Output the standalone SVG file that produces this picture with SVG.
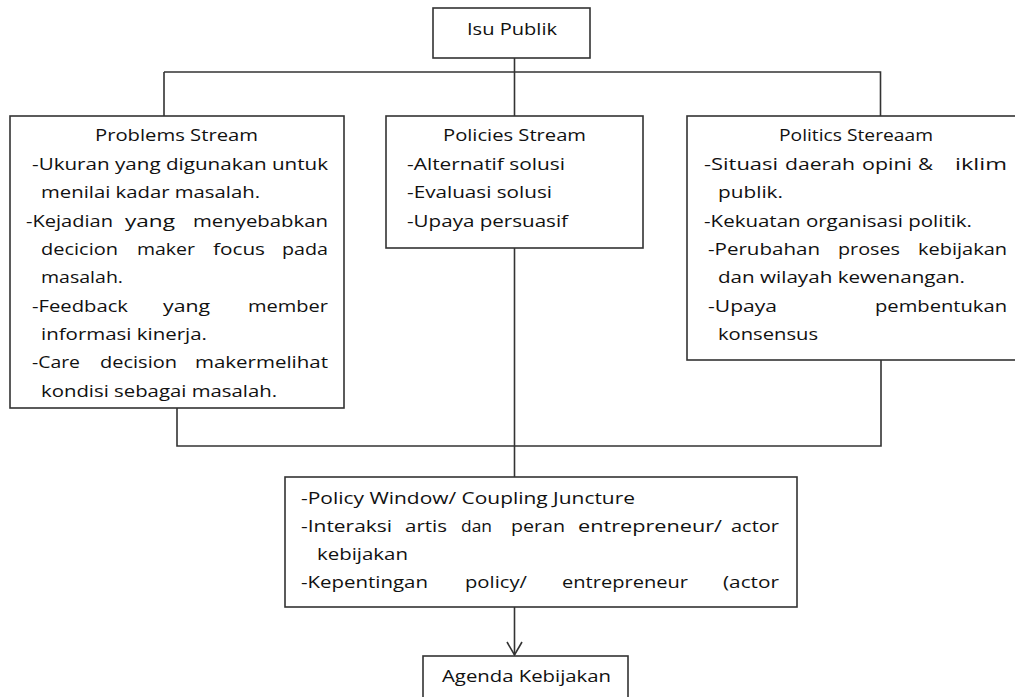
<svg xmlns="http://www.w3.org/2000/svg" width="1015" height="697" viewBox="0 0 1015 697">
<style>
.box{fill:#fff;stroke:#333;stroke-width:1.6}
.ln{fill:none;stroke:#333;stroke-width:1.6}
text{font-family:"Open Sans","Liberation Sans",sans-serif;font-size:16.5px;fill:#111}
.c{text-anchor:middle}
</style>
<rect width="1015" height="697" fill="#fff"/>
<g id="connectors">
<path class="ln" d="M514.5,58V116M164,72H880.5V116M164,72V116"/>
<path class="ln" d="M177,408V446H881V360"/>
<path class="ln" d="M514.5,248V477"/>
<path class="ln" d="M514.5,607V655"/>
<polyline class="ln" points="507,642 514.5,655 522,642"/>
</g>
<g id="isu-publik">
<rect class="box" x="433" y="8" width="157" height="50"/>
<text x="467" y="35" textLength="90" lengthAdjust="spacingAndGlyphs">Isu Publik</text>
</g>
<g id="problems-stream">
<rect class="box" x="10" y="116" width="334" height="292"/>
<text x="95" y="141" textLength="163" lengthAdjust="spacingAndGlyphs">Problems Stream</text>
<text x="32" y="170" textLength="296" lengthAdjust="spacingAndGlyphs">-Ukuran yang digunakan untuk</text>
<text x="41" y="198" textLength="219" lengthAdjust="spacingAndGlyphs">menilai kadar masalah.</text>
<text x="26" y="227" textLength="87" lengthAdjust="spacingAndGlyphs">-Kejadian</text>
<text x="125" y="227" textLength="50" lengthAdjust="spacingAndGlyphs">yang</text>
<text x="193" y="227" textLength="135" lengthAdjust="spacingAndGlyphs">menyebabkan</text>
<text x="41" y="255" textLength="77" lengthAdjust="spacingAndGlyphs">decicion</text>
<text x="137" y="255" textLength="58" lengthAdjust="spacingAndGlyphs">maker</text>
<text x="213" y="255" textLength="52" lengthAdjust="spacingAndGlyphs">focus</text>
<text x="282" y="255" textLength="46" lengthAdjust="spacingAndGlyphs">pada</text>
<text x="41" y="283" textLength="82" lengthAdjust="spacingAndGlyphs">masalah.</text>
<text x="32" y="312" textLength="96" lengthAdjust="spacingAndGlyphs">-Feedback</text>
<text x="163" y="312" textLength="47" lengthAdjust="spacingAndGlyphs">yang</text>
<text x="248" y="312" textLength="80" lengthAdjust="spacingAndGlyphs">member</text>
<text x="41" y="340" textLength="166" lengthAdjust="spacingAndGlyphs">informasi kinerja.</text>
<text x="32" y="368" textLength="48" lengthAdjust="spacingAndGlyphs">-Care</text>
<text x="100" y="368" textLength="77" lengthAdjust="spacingAndGlyphs">decision</text>
<text x="195" y="368" textLength="133" lengthAdjust="spacingAndGlyphs">makermelihat</text>
<text x="41" y="397" textLength="236" lengthAdjust="spacingAndGlyphs">kondisi sebagai masalah.</text>
</g>
<g id="policies-stream">
<rect class="box" x="386" y="116" width="257" height="132"/>
<text x="443" y="141" textLength="143" lengthAdjust="spacingAndGlyphs">Policies Stream</text>
<text x="407" y="170" textLength="158" lengthAdjust="spacingAndGlyphs">-Alternatif solusi</text>
<text x="407" y="198" textLength="145" lengthAdjust="spacingAndGlyphs">-Evaluasi solusi</text>
<text x="407" y="227" textLength="161" lengthAdjust="spacingAndGlyphs">-Upaya persuasif</text>
</g>
<g id="politics-stream">
<rect class="box" x="687" y="116" width="340" height="244"/>
<text x="779" y="141" textLength="154" lengthAdjust="spacingAndGlyphs">Politics Stereaam</text>
<text x="704" y="170" textLength="74" lengthAdjust="spacingAndGlyphs">-Situasi</text>
<text x="785" y="170" textLength="70" lengthAdjust="spacingAndGlyphs">daerah</text>
<text x="862" y="170" textLength="50" lengthAdjust="spacingAndGlyphs">opini</text>
<text x="918" y="170" textLength="15" lengthAdjust="spacingAndGlyphs">&amp;</text>
<text x="955" y="170" textLength="52" lengthAdjust="spacingAndGlyphs">iklim</text>
<text x="718" y="198" textLength="65" lengthAdjust="spacingAndGlyphs">publik.</text>
<text x="704" y="227" textLength="268" lengthAdjust="spacingAndGlyphs">-Kekuatan organisasi politik.</text>
<text x="708" y="255" textLength="112" lengthAdjust="spacingAndGlyphs">-Perubahan</text>
<text x="838" y="255" textLength="62" lengthAdjust="spacingAndGlyphs">proses</text>
<text x="918" y="255" textLength="89" lengthAdjust="spacingAndGlyphs">kebijakan</text>
<text x="718" y="283" textLength="247" lengthAdjust="spacingAndGlyphs">dan wilayah kewenangan.</text>
<text x="708" y="312" textLength="69" lengthAdjust="spacingAndGlyphs">-Upaya</text>
<text x="875" y="312" textLength="132" lengthAdjust="spacingAndGlyphs">pembentukan</text>
<text x="718" y="340" textLength="100" lengthAdjust="spacingAndGlyphs">konsensus</text>
</g>
<g id="policy-window">
<rect class="box" x="285" y="477" width="512" height="130"/>
<text x="301" y="504" textLength="334" lengthAdjust="spacingAndGlyphs">-Policy Window/ Coupling Juncture</text>
<text x="301" y="532" textLength="91" lengthAdjust="spacingAndGlyphs">-Interaksi</text>
<text x="405" y="532" textLength="42" lengthAdjust="spacingAndGlyphs">artis</text>
<text x="461" y="532" textLength="31" lengthAdjust="spacingAndGlyphs">dan</text>
<text x="511" y="532" textLength="54" lengthAdjust="spacingAndGlyphs">peran</text>
<text x="578" y="532" textLength="144" lengthAdjust="spacingAndGlyphs">entrepreneur/</text>
<text x="731" y="532" textLength="48" lengthAdjust="spacingAndGlyphs">actor</text>
<text x="317" y="560" textLength="91" lengthAdjust="spacingAndGlyphs">kebijakan</text>
<text x="301" y="588" textLength="127" lengthAdjust="spacingAndGlyphs">-Kepentingan</text>
<text x="465" y="588" textLength="62" lengthAdjust="spacingAndGlyphs">policy/</text>
<text x="562" y="588" textLength="126" lengthAdjust="spacingAndGlyphs">entrepreneur</text>
<text x="723" y="588" textLength="56" lengthAdjust="spacingAndGlyphs">(actor</text>
</g>
<g id="agenda-kebijakan">
<rect class="box" x="423" y="656" width="205" height="50"/>
<text x="442" y="682" textLength="169" lengthAdjust="spacingAndGlyphs">Agenda Kebijakan</text>
</g>
</svg>
